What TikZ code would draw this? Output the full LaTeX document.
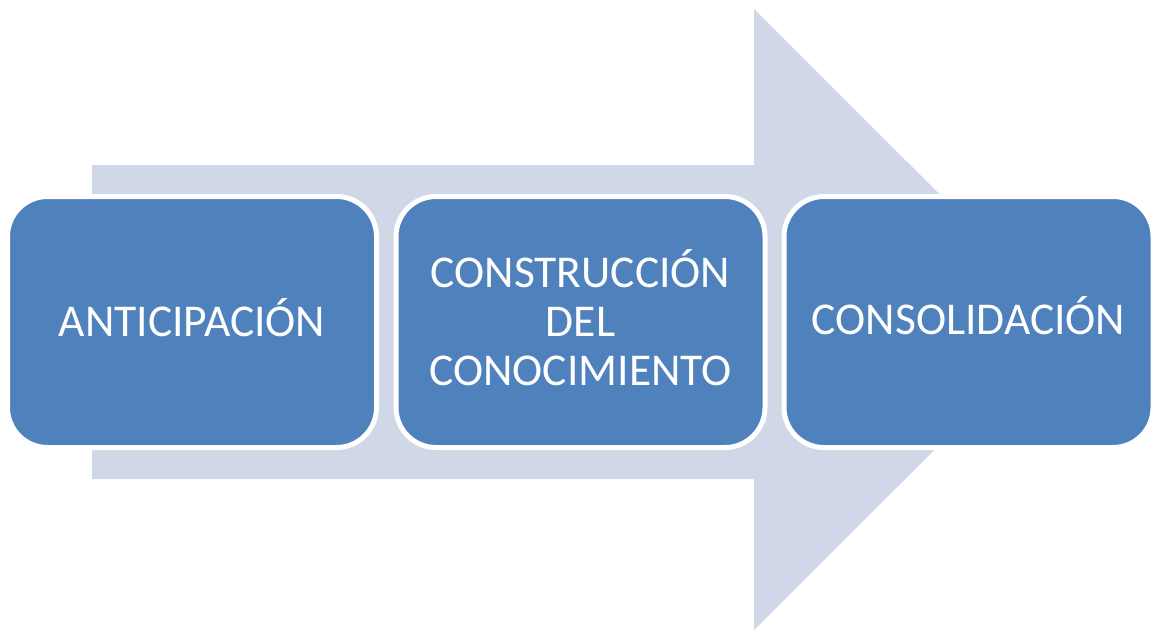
\documentclass[tikz,border=0pt]{standalone}
\usepackage{fontspec}
\setmainfont{Carlito}
\definecolor{arrowfill}{HTML}{D0D8E8}
\definecolor{boxfill}{HTML}{4F81BD}
\begin{document}
\begin{tikzpicture}[x=1pt,y=-1pt,
  stagebox/.style={draw=white,line width=5pt,fill=boxfill,rounded corners=40pt,
    minimum width=369pt,minimum height=251pt,inner sep=0pt,outer sep=0pt},
  stagetext/.style={text=white,font=\fontsize{45.5}{49}\selectfont,align=center,
    inner sep=0pt,outer sep=0pt,anchor=base}]
\useasboundingbox (0,0) rectangle (1154,630);
\fill[white] (0,0) rectangle (1154,630);
% big background arrow
\fill[arrowfill] (92,165) -- (754,165) -- (754,9) -- (1065,319.5) -- (754,630)
  -- (754,479) -- (92,479) -- cycle;
% boxes
\node[stagebox] (b1) at (192,322) {};
\node[stagebox] (b2) at (580.5,322) {};
\node[stagebox] (b3) at (968.5,322) {};
% texts
\node[stagetext] (t1) at (192,336) {ANTICIPACIÓN};
\node[stagetext] (t2) at (580.5,385) {CONSTRUCCIÓN\\DEL\\CONOCIMIENTO};
\node[stagetext] (t3) at (968.5,334) {CONSOLIDACIÓN};
\end{tikzpicture}
\end{document}
